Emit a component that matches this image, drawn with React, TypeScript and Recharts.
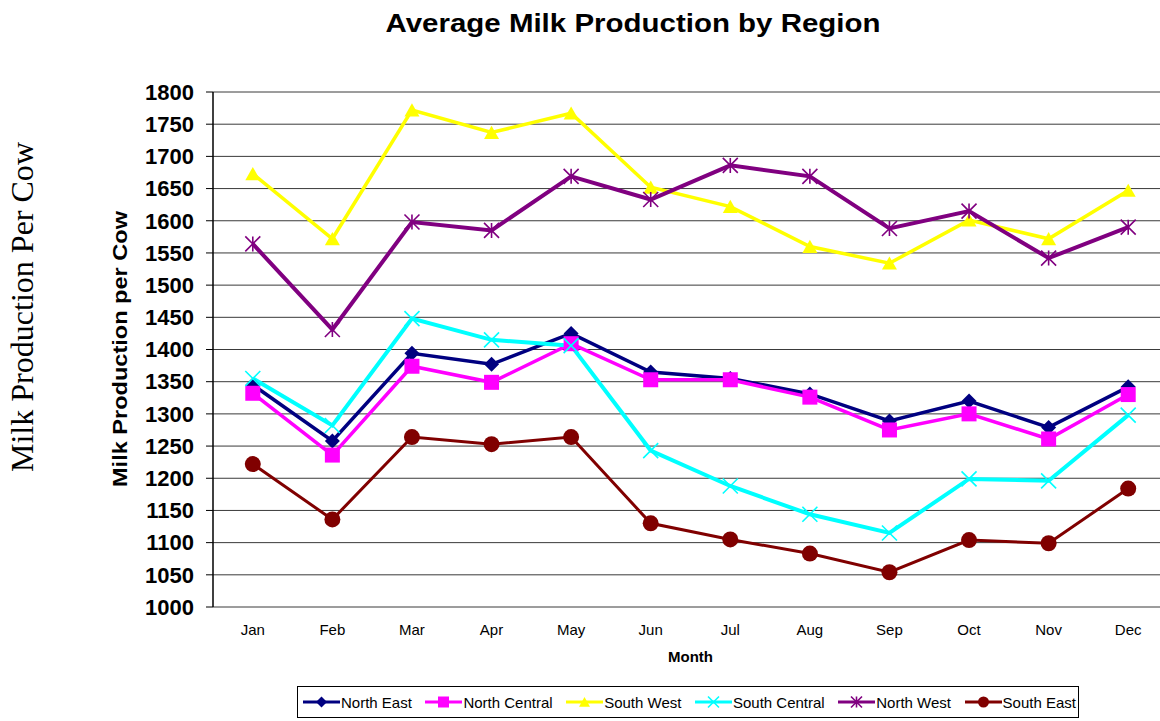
// Average milk production by region, monthly line chart

import { CartesianGrid, Legend, Line, LineChart, XAxis, YAxis } from "recharts";

const MONTHS = ["Jan", "Feb", "Mar", "Apr", "May", "Jun", "Jul", "Aug", "Sep", "Oct", "Nov", "Dec"];

const NORTH_EAST = [1345, 1258, 1394, 1377, 1425, 1365, 1355, 1331, 1289, 1320, 1279, 1342];
const NORTH_CENTRAL = [1332, 1236, 1374, 1349, 1409, 1353, 1353, 1326, 1275, 1300, 1261, 1330];
const SOUTH_WEST = [1673, 1572, 1772, 1737, 1767, 1652, 1622, 1560, 1534, 1601, 1572, 1647];
const SOUTH_CENTRAL = [1355, 1282, 1448, 1415, 1406, 1243, 1188, 1144, 1115, 1199, 1196, 1298];
const NORTH_WEST = [1564, 1431, 1598, 1585, 1669, 1633, 1686, 1669, 1588, 1615, 1542, 1590];
const SOUTH_EAST = [1222, 1136, 1264, 1253, 1264, 1130, 1105, 1083, 1054, 1104, 1099, 1184];

const Y_TICKS = [1000, 1050, 1100, 1150, 1200, 1250, 1300, 1350, 1400, 1450, 1500, 1550, 1600, 1650, 1700, 1750, 1800];

type Shape = "diamond" | "square" | "triangle" | "cross" | "star" | "circle";

const SERIES: { key: string; name: string; values: number[]; color: string; shape: Shape; width: number }[] = [
  { key: "northEast", name: "North East", values: NORTH_EAST, color: "#000080", shape: "diamond", width: 3.5 },
  { key: "northCentral", name: "North Central", values: NORTH_CENTRAL, color: "#FF00FF", shape: "square", width: 3.5 },
  { key: "southWest", name: "South West", values: SOUTH_WEST, color: "#FFFF00", shape: "triangle", width: 3.5 },
  { key: "southCentral", name: "South Central", values: SOUTH_CENTRAL, color: "#00FFFF", shape: "cross", width: 4 },
  { key: "northWest", name: "North West", values: NORTH_WEST, color: "#800080", shape: "star", width: 4 },
  { key: "southEast", name: "South East", values: SOUTH_EAST, color: "#800000", shape: "circle", width: 3 },
];

// one row per month, positioned at the middle of its category cell
const chartData = MONTHS.map((month, i) => {
  const row: Record<string, string | number> = { month, pos: i + 0.5 };
  SERIES.forEach((s) => {
    row[s.key] = s.values[i];
  });
  return row;
});

const SANS = '"Liberation Sans", Arial, sans-serif';

function Marker({ shape, cx, cy, color, size }: { shape: Shape; cx: number; cy: number; color: string; size: number }) {
  const h = size / 2;
  switch (shape) {
    case "diamond":
      return <polygon points={`${cx},${cy - h} ${cx + h},${cy} ${cx},${cy + h} ${cx - h},${cy}`} fill={color} />;
    case "square":
      return <rect x={cx - h} y={cy - h} width={size} height={size} fill={color} />;
    case "triangle":
      return <polygon points={`${cx},${cy - h * 0.9} ${cx + h},${cy + h * 0.85} ${cx - h},${cy + h * 0.85}`} fill={color} />;
    case "cross":
      return (
        <path
          d={`M${cx - h},${cy - h}L${cx + h},${cy + h}M${cx - h},${cy + h}L${cx + h},${cy - h}`}
          stroke={color}
          strokeWidth={1.6}
          fill="none"
        />
      );
    case "star":
      return (
        <path
          d={`M${cx - h},${cy - h}L${cx + h},${cy + h}M${cx - h},${cy + h}L${cx + h},${cy - h}M${cx},${cy - h}L${cx},${cy + h}`}
          stroke={color}
          strokeWidth={1.6}
          fill="none"
        />
      );
    default:
      return <circle cx={cx} cy={cy} r={h} fill={color} />;
  }
}

function LegendBox({ payload }: any) {
  // keep the series order rather than the alphabetical order of the payload
  const entries = [...(payload || [])].sort(
    (a: any, b: any) =>
      SERIES.findIndex((s) => s.name === a.value) - SERIES.findIndex((s) => s.name === b.value),
  );
  return (
    <div
      style={{
        display: "flex",
        alignItems: "center",
        justifyContent: "space-between",
        border: "1px solid #000",
        boxSizing: "border-box",
        height: 32,
        padding: "0 2px 0 5px",
        fontFamily: SANS,
        fontSize: 15,
        color: "#000",
        background: "#fff",
      }}
    >
      {entries.map((entry: any) => {
        const s = SERIES.find((item) => item.name === entry.value) || SERIES[0];
        return (
          <div key={s.key} style={{ display: "flex", alignItems: "center" }}>
            <svg width={37} height={14} style={{ marginRight: 1 }}>
              <line x1={0} y1={7} x2={37} y2={7} stroke={s.color} strokeWidth={3} />
              <Marker shape={s.shape} cx={18.5} cy={7} color={s.color} size={11} />
            </svg>
            <span>{s.name}</span>
          </div>
        );
      })}
    </div>
  );
}

const renderYLabel = () => (
  <text
    transform="translate(127,349) rotate(-90)"
    textAnchor="middle"
    fontFamily={SANS}
    fontWeight="bold"
    fontSize={21}
    fill="#000"
    textLength={276}
    lengthAdjust="spacingAndGlyphs"
  >
    Milk Production per Cow
  </text>
);

const renderXLabel = (props: any) => {
  const vb = props.viewBox || {};
  const x = (vb.x ?? 213) + (vb.width ?? 955) / 2;
  const y = (vb.y ?? 607) + 55;
  return (
    <text x={x} y={y} textAnchor="middle" fontFamily={SANS} fontWeight="bold" fontSize={15} fill="#000">
      Month
    </text>
  );
};

export default function App() {
  return (
    <div
      style={{
        position: "absolute",
        left: 0,
        top: 0,
        width: 1160,
        height: 721,
        overflow: "hidden",
        background: "#fff",
      }}
    >
      <LineChart width={1172} height={721} data={chartData} margin={{ top: 92, right: 4, bottom: 54, left: 0 }}>
        <CartesianGrid horizontal vertical={false} stroke="#3a3a3a" strokeWidth={1} xAxisId="marks" />
        <XAxis
          xAxisId="marks"
          dataKey="pos"
          type="number"
          domain={[0, MONTHS.length]}
          ticks={MONTHS.map((_, i) => i).concat([MONTHS.length])}
          interval={0}
          tick={false}
          tickSize={5}
          height={0}
          axisLine={{ stroke: "#000", strokeWidth: 1.5 }}
          tickLine={{ stroke: "#000", strokeWidth: 1 }}
        />
        <XAxis
          xAxisId="labels"
          dataKey="pos"
          type="number"
          domain={[0, MONTHS.length]}
          ticks={MONTHS.map((_, i) => i + 0.5)}
          interval={0}
          tickFormatter={(v: number) => MONTHS[Math.floor(v)]}
          tick={{ fontFamily: SANS, fontSize: 15, fill: "#000" }}
          tickLine={false}
          axisLine={false}
          tickSize={6}
          tickMargin={11}
          height={60}
          label={renderXLabel}
        />
        <YAxis
          type="number"
          domain={[1000, 1800]}
          ticks={Y_TICKS}
          interval={0}
          width={213}
          tick={{ fontFamily: SANS, fontSize: 22, fontWeight: "bold", fill: "#000" }}
          tickSize={7}
          tickMargin={12}
          axisLine={{ stroke: "#000", strokeWidth: 1.5 }}
          tickLine={{ stroke: "#000", strokeWidth: 1 }}
          label={renderYLabel}
        />
        {SERIES.map((s) => (
          <Line
            key={s.key}
            xAxisId="marks"
            type="linear"
            dataKey={s.key}
            name={s.name}
            stroke={s.color}
            strokeWidth={s.width}
            isAnimationActive={false}
            dot={(p: any) => (
              <Marker
                key={`${s.key}-${p.index}`}
                shape={s.shape}
                cx={p.cx}
                cy={p.cy}
                color={s.color}
                size={s.shape === "circle" ? 16 : 15}
              />
            )}
            activeDot={false}
          />
        ))}
        <Legend
          layout="horizontal"
          verticalAlign="middle"
          align="center"
          content={LegendBox}
          wrapperStyle={{ top: 686, left: 297, bottom: "auto", width: 782, height: 32 }}
        />
      </LineChart>
      <svg width={1160} height={721} style={{ position: "absolute", left: 0, top: 0, pointerEvents: "none" }}>
        <text
          x={633}
          y={32}
          textAnchor="middle"
          fontFamily={SANS}
          fontWeight="bold"
          fontSize={26}
          fill="#000"
          textLength={495}
          lengthAdjust="spacingAndGlyphs"
        >
          Average Milk Production by Region
        </text>
        <text
          transform="translate(33,307) rotate(-90)"
          textAnchor="middle"
          fontFamily='"Liberation Serif", "Times New Roman", serif'
          fontSize={32}
          fill="#000"
          textLength={330}
          lengthAdjust="spacingAndGlyphs"
        >
          Milk Production Per Cow
        </text>
      </svg>
    </div>
  );
}
